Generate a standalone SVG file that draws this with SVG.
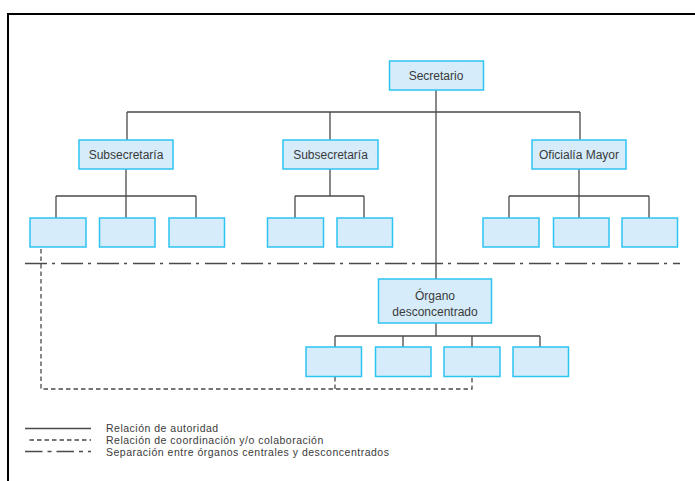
<svg xmlns="http://www.w3.org/2000/svg" width="695" height="481" viewBox="0 0 695 481">
  <style>
    .box { fill: #d6ecfa; stroke: #2ec4f2; stroke-width: 1.5; }
    .lbl { font-family: "Liberation Sans", Arial, sans-serif; font-size: 12px; fill: #3a3a3a; text-anchor: middle; }
    .leg { font-family: "Liberation Sans", Arial, sans-serif; font-size: 10.5px; letter-spacing: 0.5px; fill: #3a3a3a; }
    .solid { fill: none; stroke: #4a4a4a; stroke-width: 1.3; }
    .dash { fill: none; stroke: #4a4a4a; stroke-width: 1.3; stroke-dasharray: 4.5 3; }
    .dashdot { fill: none; stroke: #4a4a4a; stroke-width: 1.3; stroke-dasharray: 22 5 3 6; }
    .dashdot-leg { fill: none; stroke: #4a4a4a; stroke-width: 1.3; stroke-dasharray: 17.5 5 4 5; }
  </style>

  <rect width="695" height="481" fill="#ffffff"/>

  <!-- outer frame (top and left edges) -->
  <path d="M8 481 V14 H695" fill="none" stroke="#000" stroke-width="2"/>

  <!-- connectors -->
  <g id="connectors">
    <!-- authority lines -->
    <path class="solid" d="M436 90 V279 M127 112 H580 M127 112 V140 M330 112 V140 M580 112 V140"/>
    <path class="solid" d="M126 169 V218 M56 196 H196 M56 196 V218 M196 196 V218"/>
    <path class="solid" d="M330 169 V196 M295 196 H364 M295 196 V218 M364 196 V218"/>
    <path class="solid" d="M579 169 V218 M509 196 H649 M509 196 V218 M649 196 V218"/>
    <path class="solid" d="M436 323 V336 M335 336 H540 M335 336 V347 M403 336 V347 M472 336 V347 M540 336 V347"/>
    <!-- separation between central and deconcentrated bodies -->
    <path class="dashdot" d="M25 263.5 H680"/>
    <!-- coordination / collaboration -->
    <path class="dash" d="M41 249 V389 H472 V377 M335 377 V389"/>
  </g>

  <g id="secretario">
    <rect class="box" x="389.5" y="61" width="94" height="29"/>
    <text class="lbl" x="436" y="79.5">Secretario</text>
  </g>

  <g id="subsecretaria-1">
    <rect class="box" x="79" y="140" width="94" height="29"/>
    <text class="lbl" x="126" y="159">Subsecretaría</text>
  </g>
  <g id="subsecretaria-1-u1"><rect class="box" x="30" y="218" width="56" height="29"/></g>
  <g id="subsecretaria-1-u2"><rect class="box" x="99.5" y="218" width="55.5" height="29"/></g>
  <g id="subsecretaria-1-u3"><rect class="box" x="169" y="218" width="55.5" height="29"/></g>

  <g id="subsecretaria-2">
    <rect class="box" x="283" y="140" width="95" height="29"/>
    <text class="lbl" x="330.5" y="159">Subsecretaría</text>
  </g>
  <g id="subsecretaria-2-u1"><rect class="box" x="267.5" y="218" width="56" height="29"/></g>
  <g id="subsecretaria-2-u2"><rect class="box" x="337" y="218" width="55.5" height="29"/></g>

  <g id="oficialia-mayor">
    <rect class="box" x="532" y="140" width="94" height="29"/>
    <text class="lbl" x="579" y="159">Oficialía Mayor</text>
  </g>
  <g id="oficialia-u1"><rect class="box" x="483" y="218" width="56" height="29"/></g>
  <g id="oficialia-u2"><rect class="box" x="553.5" y="218" width="55.5" height="29"/></g>
  <g id="oficialia-u3"><rect class="box" x="622" y="218" width="55.5" height="29"/></g>

  <g id="organo-desconcentrado">
    <rect class="box" x="378.5" y="279" width="113" height="44"/>
    <text class="lbl" x="435" y="299.5">Órgano</text>
    <text class="lbl" x="435" y="315.5">desconcentrado</text>
  </g>
  <g id="organo-u1"><rect class="box" x="306" y="347" width="55.5" height="29.5"/></g>
  <g id="organo-u2"><rect class="box" x="375.5" y="347" width="55.5" height="29.5"/></g>
  <g id="organo-u3"><rect class="box" x="444" y="347" width="56" height="29.5"/></g>
  <g id="organo-u4"><rect class="box" x="513" y="347" width="55.5" height="29.5"/></g>

  <!-- legend -->
  <g id="legend">
    <path class="solid" d="M25 428.5 H91"/>
    <text class="leg" x="106" y="432">Relación de autoridad</text>
    <path class="dash" d="M29.5 440 H91"/>
    <text class="leg" x="106" y="444">Relación de coordinación y/o colaboración</text>
    <path class="dashdot-leg" d="M25 451.5 H91"/>
    <text class="leg" x="106" y="456">Separación entre órganos centrales y desconcentrados</text>
  </g>
</svg>
